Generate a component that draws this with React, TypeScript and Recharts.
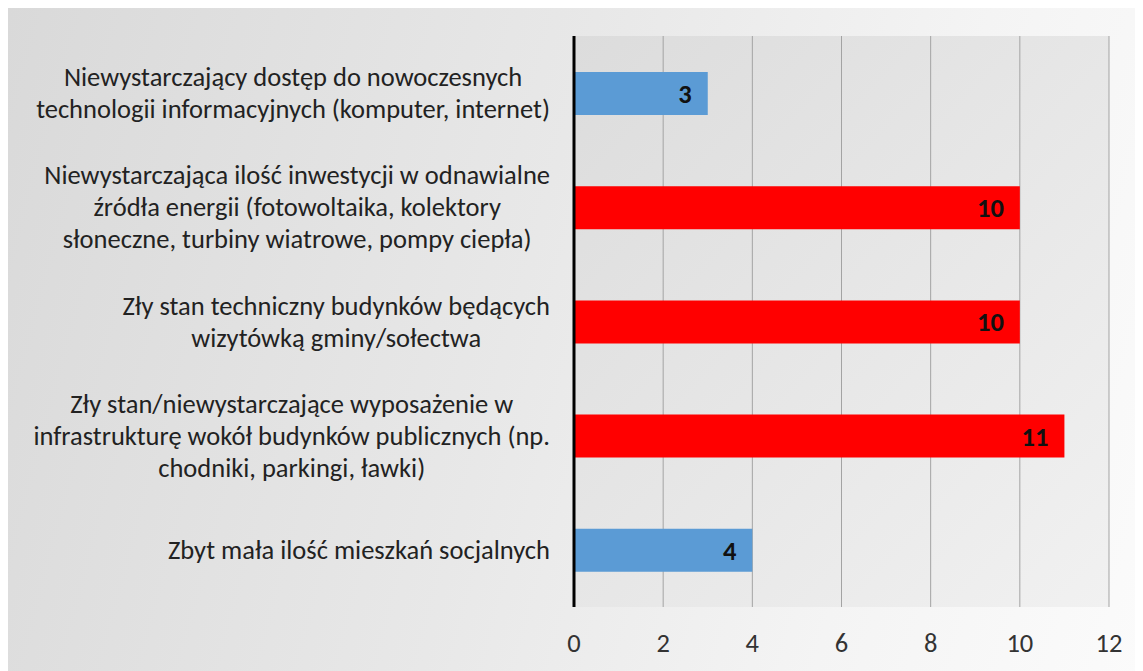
import React from "react";
import { BarChart, Bar, XAxis, YAxis, CartesianGrid, Cell, LabelList } from "recharts";

const CATEGORY_LINES: string[][] = [
  ["Niewystarczający dostęp do nowoczesnych", "technologii informacyjnych (komputer, internet)"],
  ["Niewystarczająca ilość inwestycji w odnawialne", "źródła energii (fotowoltaika, kolektory", "słoneczne, turbiny wiatrowe, pompy ciepła)"],
  ["Zły stan techniczny budynków będących", "wizytówką gminy/sołectwa"],
  ["Zły stan/niewystarczające wyposażenie w", "infrastrukturę wokół budynków publicznych (np.", "chodniki, parkingi, ławki)"],
  ["Zbyt mała ilość mieszkań socjalnych"],
];
const VALUES: number[] = [3, 10, 10, 11, 4];
const X_TICKS: number[] = [0, 2, 4, 6, 8, 10, 12];

const BAR_COLORS = ["#5b9bd5", "#ff0000", "#ff0000", "#ff0000", "#5b9bd5"];
const FONT = "Carlito, Calibri, Lato, sans-serif";
const LABEL_SIZE = 26.5;
const LINE_H = 32;

const data = VALUES.map((v, i) => ({ name: String(i), value: v }));

let ctx: CanvasRenderingContext2D | null = null;
function measure(text: string): number {
  if (!ctx) {
    const c = document.createElement("canvas");
    ctx = c.getContext("2d");
  }
  if (!ctx) return text.length * LABEL_SIZE * 0.46;
  ctx.font = `${LABEL_SIZE}px ${FONT}`;
  return ctx.measureText(text).width;
}

function YTick(props: any) {
  const { x, y, payload } = props;
  const lines = CATEGORY_LINES[Number(payload.value)] || [];
  const blockW = Math.max(...lines.map(measure));
  const cx = x - 24 - blockW / 2;
  const n = lines.length;
  return (
    <g>
      {lines.map((l, i) => (
        <text
          key={i}
          x={cx}
          y={y + (i - (n - 1) / 2) * LINE_H}
          textAnchor="middle"
          dominantBaseline="central"
          fontFamily={FONT}
          fontSize={LABEL_SIZE}
          fill="#222"
        >
          {l}
        </text>
      ))}
    </g>
  );
}

function XTick(props: any) {
  const { x, y, payload } = props;
  return (
    <text x={x} y={y + 34} textAnchor="middle" dominantBaseline="central" fontFamily={FONT} fontSize={LABEL_SIZE} fill="#333">
      {payload.value}
    </text>
  );
}

export default function App() {
  return (
    <div
      style={{
        width: 1135,
        height: 663,
        margin: "-1px 0 0 -1px",
        borderTop: "1px solid #9a9a9a",
        borderLeft: "1px solid #9a9a9a",
        background: "linear-gradient(105deg, #d9d9d9 0%, #e8e8e8 45%, #f4f4f4 75%, #fbfbfb 100%)",
        overflow: "hidden",
      }}
    >
      <BarChart
        width={1135}
        height={663}
        data={data}
        layout="vertical"
        margin={{ top: 28, right: 34, left: 0, bottom: 0 }}
        barSize={43}
      >
        <defs>
          <linearGradient id="plotBg" x1="0" y1="0" x2="1" y2="1">
            <stop offset="0%" stopColor="#dcdcdc" />
            <stop offset="100%" stopColor="#f1f1f1" />
          </linearGradient>
        </defs>
        <CartesianGrid horizontal={false} stroke="#a3a3a3" fill="url(#plotBg)" />
        <XAxis
          type="number"
          domain={[0, 12]}
          ticks={X_TICKS}
          axisLine={false}
          tickLine={false}
          tickSize={0}
          height={64}
          tick={<XTick />}
          interval={0}
        />
        <YAxis
          type="category"
          dataKey="name"
          width={566}
          axisLine={{ stroke: "#000", strokeWidth: 3 }}
          tickLine={false}
          tickSize={0}
          tickMargin={0}
          tick={<YTick />}
          interval={0}
        />
        <Bar dataKey="value" isAnimationActive={false}>
          {data.map((d, i) => (
            <Cell key={i} fill={BAR_COLORS[i]} />
          ))}
          <LabelList
            dataKey="value"
            position="insideRight"
            offset={16}
            fill="#111"
            fontFamily={FONT}
            fontSize={26.5}
            fontWeight="bold"
          />
        </Bar>
      </BarChart>
    </div>
  );
}
